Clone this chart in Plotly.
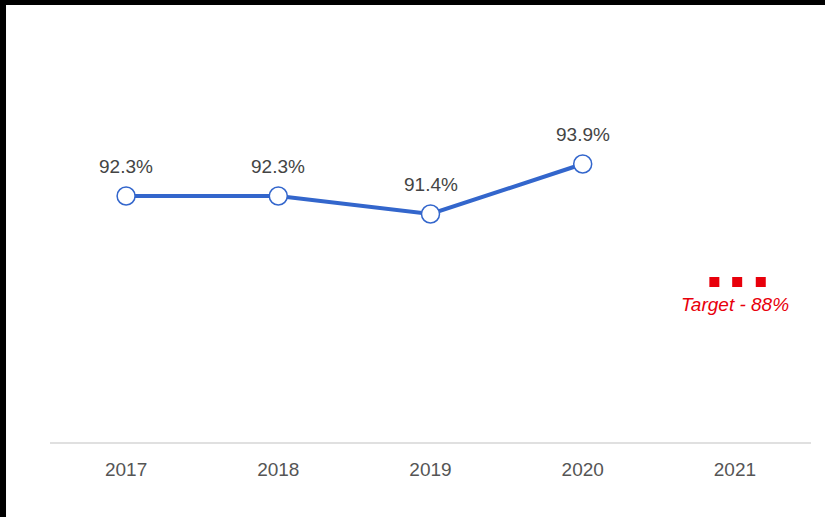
import plotly.graph_objects as go

years = ["2017", "2018", "2019", "2020", "2021"]
actual_years = ["2017", "2018", "2019", "2020"]
actual_values = [92.3, 92.3, 91.4, 93.9]
target_year = "2021"
target_value = 88
target_label = "Target - 88%"

idx = {y: i for i, y in enumerate(years)}
ax = [idx[y] for y in actual_years]
t_center = idx[target_year]
dot_offsets = [-0.135, 0.015, 0.17]

FONT = "Liberation Sans, Arial, sans-serif"

fig = go.Figure()

fig.add_trace(go.Scatter(
    x=ax, y=actual_values, mode="lines+markers",
    line=dict(color="#3366cc", width=4),
    marker=dict(size=18, color="white", line=dict(color="#3366cc", width=1.5)),
    hoverinfo="skip", showlegend=False,
))

fig.add_trace(go.Scatter(
    x=[t_center + o for o in dot_offsets], y=[target_value] * len(dot_offsets),
    mode="markers",
    marker=dict(symbol="square", size=10, color="#e8000b", line=dict(width=0)),
    hoverinfo="skip", showlegend=False,
))

annotations = []
for xv, yv in zip(ax, actual_values):
    annotations.append(dict(
        x=xv, y=yv, xref="x", yref="y", text=f"{yv:.1f}%",
        showarrow=False, yshift=30,
        font=dict(family=FONT, size=19, color="#444444"),
    ))
annotations.append(dict(
    x=t_center, y=target_value, xref="x", yref="y", text=f"<i>{target_label}</i>",
    showarrow=False, yshift=-22,
    font=dict(family=FONT, size=19, color="#e8000b"),
))

fig.update_layout(
    width=825, height=517,
    margin=dict(l=50, r=14, t=42, b=75),
    paper_bgcolor="black",
    plot_bgcolor="rgba(0,0,0,0)",
    font=dict(family=FONT, size=19, color="#555555"),
    annotations=annotations,
    shapes=[dict(type="rect", xref="paper", yref="paper",
                 x0=-0.0578, x1=1.05, y0=-0.25, y1=1.0925,
                 fillcolor="white", line=dict(width=0), layer="below")],
    xaxis=dict(
        range=[-0.5, 4.5], tickmode="array",
        tickvals=list(range(len(years))), ticktext=years,
        showgrid=False, zeroline=False,
        showline=True, linecolor="#e0e0e0", linewidth=2,
        ticks="", ticklen=0, tickfont=dict(family=FONT, size=19, color="#555555"),
        ticklabelstandoff=9,
        fixedrange=True,
    ),
    yaxis=dict(range=[80, 100], visible=False, fixedrange=True),
)

fig.write_html("out.html", config={"displayModeBar": False},
               post_script="document.body.style.margin='0px';document.body.style.overflow='hidden';")
